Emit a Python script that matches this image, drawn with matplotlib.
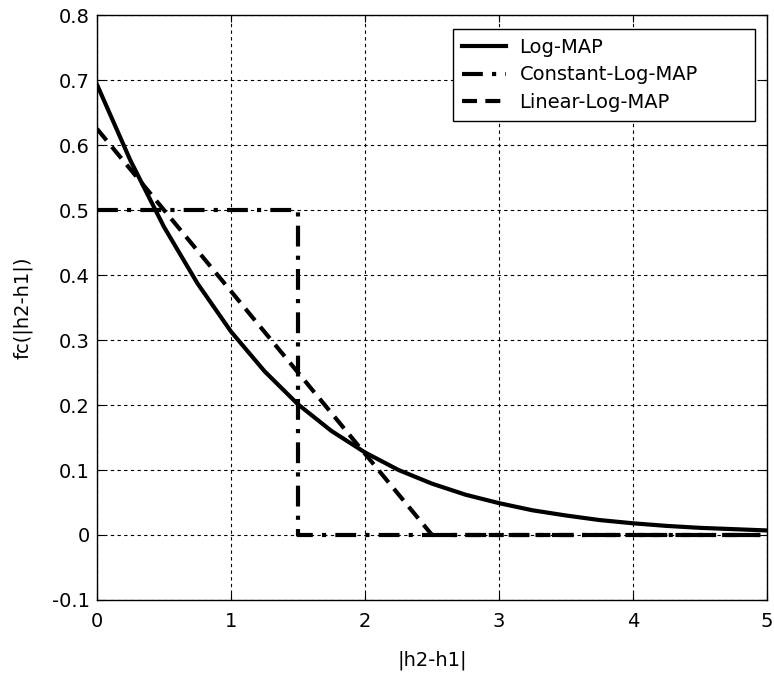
import numpy as np
import matplotlib.pyplot as plt

plt.rcParams['font.family'] = ['DejaVu Sans']

# correction term values f_c(|h2-h1|) read at regular steps
x_exact = [0.0, 0.25, 0.5, 0.75, 1.0, 1.25, 1.5, 1.75, 2.0, 2.25, 2.5,
           2.75, 3.0, 3.25, 3.5, 3.75, 4.0, 4.25, 4.5, 4.75, 5.0]
y_exact = [0.693, 0.576, 0.474, 0.387, 0.313, 0.252, 0.201, 0.160, 0.127, 0.100, 0.079,
           0.062, 0.049, 0.038, 0.030, 0.023, 0.018, 0.014, 0.011, 0.009, 0.007]

x_const = [0.0, 1.5, 1.5, 5.0]
y_const = [0.5, 0.5, 0.0, 0.0]

x_lin = [0.0, 2.5, 5.0]
y_lin = [0.625, 0.0, 0.0]

xticks = [0, 1, 2, 3, 4, 5]
yticks = [-0.1, 0.0, 0.1, 0.2, 0.3, 0.4, 0.5, 0.6, 0.7, 0.8]
ytick_labels = ['-0.1', '0', '0.1', '0.2', '0.3', '0.4', '0.5', '0.6', '0.7', '0.8']

fig = plt.figure(figsize=(7.74, 6.74), dpi=100)
ax = fig.add_axes([0.1253, 0.1098, 0.8657, 0.8679])

ax.plot(x_exact, y_exact, 'k-', lw=3, label='Log-MAP')
ax.plot(x_const, y_const, color='k', lw=3, linestyle=(0, (5, 2.2, 1, 2.2)),
        label='Constant-Log-MAP')
ax.plot(x_lin, y_lin, color='k', lw=3, linestyle=(0, (3.6, 2)), label='Linear-Log-MAP')

ax.set_xlim(0, 5)
ax.set_ylim(-0.1, 0.8)
ax.set_xticks(xticks)
ax.set_xticklabels([str(t) for t in xticks])
ax.set_yticks(yticks)
ax.set_yticklabels(ytick_labels)
ax.grid(True, color='k', linestyle=(0, (3, 3)), linewidth=0.8)
ax.tick_params(direction='in', top=True, right=True, labelsize=14, length=5, width=0.8)
ax.tick_params(axis='x', pad=9)
ax.tick_params(axis='y', pad=5)
for s in ax.spines.values():
    s.set_linewidth(1.0)

ax.set_xlabel('|h2-h1|', fontsize=14, labelpad=14)
ax.set_ylabel('fc(|h2-h1|)', fontsize=14, labelpad=14)

# fixed-width legend box in the upper right corner
leg = ax.legend(loc='upper left', bbox_to_anchor=(453 / 774, 0.957, 302 / 774, 0.0),
                bbox_transform=fig.transFigure, mode='expand', fontsize=14,
                fancybox=False, framealpha=1, edgecolor='k', handlelength=2.3,
                handletextpad=0.67, labelspacing=0.45, borderpad=0.45, borderaxespad=0)
leg.get_frame().set_linewidth(1.0)

fig.savefig('out.png', dpi=100)
